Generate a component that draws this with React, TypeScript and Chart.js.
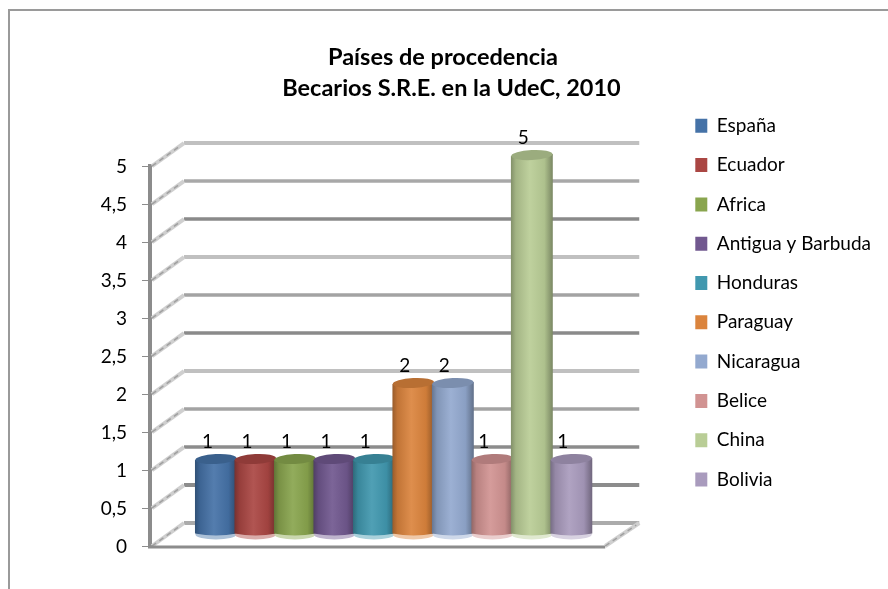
import React, { useEffect, useRef } from "react";
import { Chart, registerables } from "chart.js";

Chart.register(...registerables);

const titleLines = ["Países de procedencia   ", "Becarios S.R.E. en la UdeC, 2010"];
const countries = ["España", "Ecuador", "Africa", "Antigua y Barbuda", "Honduras", "Paraguay", "Nicaragua", "Belice", "China", "Bolivia"];
const counts = [1, 1, 1, 1, 1, 2, 2, 1, 5, 1];
const colors = ["#4572A7", "#AA4643", "#89A54E", "#71588F", "#4198AF", "#DB843D", "#93A9CF", "#D19392", "#B9CD96", "#A99BBD"];
const gridShades = ["#ABABAB", "#8C8C8C", "#8C8C8C", "#A3A3A3", "#C0C0C0", "#8A8A8A", "#A3A3A3", "#C0C0C0", "#8A8A8A", "#A8A8A8", "#C0C0C0"];

const FONT = "Lato, Carlito, Calibri, sans-serif";
const DEPTH_X = 34;
const DEPTH_Y = -23;
const BAR_DX = 16;
const BAR_DY = -11;

function shade(hex: string, f: number): string {
  const n = parseInt(hex.slice(1), 16);
  const ch = (v: number) => {
    const o = f <= 1 ? v * f : v + (255 - v) * (f - 1);
    return Math.round(Math.max(0, Math.min(255, o)));
  };
  return `rgb(${ch((n >> 16) & 255)},${ch((n >> 8) & 255)},${ch(n & 255)})`;
}

function drawCylinder(ctx: CanvasRenderingContext2D, el: any, color: string) {
  const half = el.width / 2;
  const cx = el.x + BAR_DX;
  const top = el.y + BAR_DY;
  const base = el.base + BAR_DY;
  const ry = 5;
  const tilt = -0.05;
  ctx.save();
  // pale foot of the cylinder
  ctx.fillStyle = shade(color, 1.55);
  ctx.beginPath();
  ctx.ellipse(cx, base, half - 0.5, ry, 0, 0, Math.PI * 2);
  ctx.fill();
  // body
  const g = ctx.createLinearGradient(cx - half, 0, cx + half, 0);
  g.addColorStop(0, shade(color, 0.7));
  g.addColorStop(0.12, shade(color, 0.88));
  g.addColorStop(0.45, shade(color, 1.08));
  g.addColorStop(0.8, shade(color, 0.94));
  g.addColorStop(1, shade(color, 0.66));
  ctx.fillStyle = g;
  ctx.beginPath();
  ctx.moveTo(cx - half, top + 1);
  ctx.lineTo(cx + half, top - 1);
  ctx.lineTo(cx + half, base - 1);
  ctx.quadraticCurveTo(cx, base + 3, cx - half, base - 1);
  ctx.closePath();
  ctx.fill();
  // lid
  ctx.fillStyle = shade(color, 0.84);
  ctx.beginPath();
  ctx.ellipse(cx, top, half - 0.3, ry, tilt, 0, Math.PI * 2);
  ctx.fill();
  ctx.restore();
}

const frame3d = {
  id: "frame3d",
  beforeDraw(chart: any) {
    const { ctx, width, height } = chart;
    ctx.save();
    ctx.fillStyle = "#fff";
    ctx.fillRect(0, 0, width, height);
    ctx.strokeStyle = "#9A9A9A";
    ctx.lineWidth = 2;
    ctx.beginPath();
    ctx.moveTo(width, 10);
    ctx.lineTo(9, 10);
    ctx.lineTo(9, height);
    ctx.stroke();
    ctx.restore();
  },
  beforeDatasetsDraw(chart: any) {
    const { ctx, chartArea, scales } = chart;
    const y = scales.y;
    const { left, right, bottom } = chartArea;
    ctx.save();
    y.ticks.forEach((tick: any, i: number) => {
      const py = y.getPixelForValue(tick.value);
      ctx.strokeStyle = gridShades[i] || "#A3A3A3";
      ctx.lineWidth = i === 0 || i % 3 === 1 ? 4 : 3.5;
      ctx.beginPath();
      ctx.moveTo(left + DEPTH_X, py + DEPTH_Y);
      ctx.lineTo(right + DEPTH_X, py + DEPTH_Y);
      ctx.stroke();
      ctx.lineWidth = 4;
      ctx.strokeStyle = "#CFCFCF";
      ctx.beginPath();
      ctx.moveTo(left + 2, py);
      ctx.lineTo(left + DEPTH_X, py + DEPTH_Y);
      ctx.stroke();
      ctx.lineWidth = 1.5;
      ctx.strokeStyle = "#A0A0A0";
      ctx.setLineDash([5, 4]);
      ctx.beginPath();
      ctx.moveTo(left + 2, py);
      ctx.lineTo(left + DEPTH_X - 4, py + DEPTH_Y + 3);
      ctx.stroke();
      ctx.setLineDash([]);
    });
    // floor: front edge and right diagonal
    ctx.strokeStyle = "#CFCFCF";
    ctx.lineWidth = 4;
    ctx.beginPath();
    ctx.moveTo(right, bottom);
    ctx.lineTo(right + DEPTH_X, bottom + DEPTH_Y);
    ctx.stroke();
    ctx.lineWidth = 1.5;
    ctx.strokeStyle = "#A0A0A0";
    ctx.setLineDash([5, 4]);
    ctx.beginPath();
    ctx.moveTo(right, bottom);
    ctx.lineTo(right + DEPTH_X - 3, bottom + DEPTH_Y + 2);
    ctx.stroke();
    ctx.setLineDash([]);
    ctx.strokeStyle = "#8C8C8C";
    ctx.lineWidth = 3;
    ctx.beginPath();
    ctx.moveTo(left - 2, bottom + 1);
    ctx.lineTo(right, bottom + 1);
    ctx.stroke();
    ctx.restore();
  },
  // The bars are painted below, left to right, so that each one overlaps the previous one.
  beforeDatasetDraw() {
    return false;
  },
  afterDatasetsDraw(chart: any) {
    const { ctx } = chart;
    chart.data.datasets.forEach((_: any, i: number) => {
      drawCylinder(ctx, chart.getDatasetMeta(i).data[0], colors[i]);
    });
    ctx.save();
    ctx.fillStyle = "#000";
    ctx.font = `19px ${FONT}`;
    ctx.textAlign = "center";
    ctx.textBaseline = "middle";
    chart.data.datasets.forEach((ds: any, i: number) => {
      const el = chart.getDatasetMeta(i).data[0];
      ctx.fillText(String(ds.data[0]), el.x + BAR_DX - 8.5, el.y + BAR_DY - 17);
    });
    ctx.restore();
  },
  afterLayout(chart: any) {
    const lg = chart.legend;
    const w = lg.width;
    lg.left = 675;
    lg.right = 675 + w;
    lg.top = 96;
    chart.titleBlock.left = 15;
    chart.titleBlock.right = 888;
  },
};

export default function App() {
  const ref = useRef<HTMLCanvasElement>(null);
  useEffect(() => {
    document.body.style.margin = "0";
    const chart = new Chart(ref.current as HTMLCanvasElement, {
      type: "bar",
      plugins: [frame3d],
      data: {
        labels: [""],
        datasets: countries.map((c, i) => ({
          label: c,
          data: [counts[i]],
          backgroundColor: colors[i],
        })),
      },
      options: {
        animation: false,
        responsive: false,
        layout: { padding: { top: 42, left: 12, right: 85, bottom: 43 } },
        plugins: {
          tooltip: { enabled: false },
          title: {
            display: true,
            text: titleLines,
            color: "#000",
            font: { family: FONT, size: 23.5, weight: "bold", lineHeight: 1.32 },
            padding: { top: 0, bottom: 62 },
          },
          legend: {
            position: "right",
            align: "start",
            labels: {
              boxWidth: 12,
              boxHeight: 14,
              padding: 20.3,
              color: "#000",
              font: { family: FONT, size: 19 },
            },
          },
        },
        scales: {
          x: {
            display: false,
            grid: { display: false },
          },
          y: {
            min: 0,
            max: 5,
            afterFit(scale: any) {
              scale.width = 138;
            },
            border: { color: "#8C8C8C", width: 4 },
            grid: { drawOnChartArea: false, drawTicks: true, tickLength: 8, color: "#8C8C8C", lineWidth: 1 },
            ticks: {
              stepSize: 0.5,
              color: "#000",
              padding: 15,
              labelOffset: 1,
              font: { family: FONT, size: 19 },
              callback: (v: any) => String(v).replace(".", ","),
            },
          },
        },
        datasets: {
          bar: { categoryPercentage: 0.8675, barPercentage: 1.06, clip: false },
        },
      } as any,
    });
    return () => chart.destroy();
  }, []);
  return <canvas ref={ref} width={888} height={589} style={{ display: "block" }} />;
}
